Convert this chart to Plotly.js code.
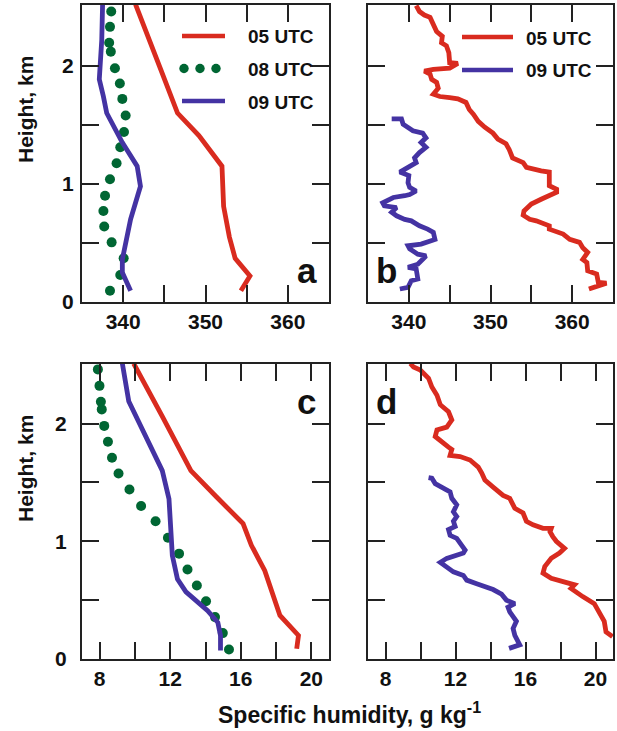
<!DOCTYPE html>
<html>
<head>
<meta charset="utf-8">
<script src="https://cdn.plot.ly/plotly-3.0.1.min.js"></script>
<style>html,body{margin:0;padding:0;background:#fff;}#chart{width:617px;height:731px;}</style>
</head>
<body>
<div id="chart"></div>
<script>
// ---------- DATA ----------
// Panel a: potential temperature (K) vs height (km), smoothed profiles
const a05_theta = [354.3, 355.4, 353.6, 352.9, 352.2, 352.0, 349.2, 346.6, 344.5, 343.1, 341.5];
const a05_z     = [0.095, 0.22, 0.37, 0.55, 0.81, 1.15, 1.41, 1.60, 1.98, 2.22, 2.52];
const a08_theta = [338.4, 339.65, 340.06, 338.6, 337.7, 337.6, 337.8, 338.4, 339.2, 339.65, 340.1, 340.3, 339.9, 339.6, 339.0, 338.5, 338.3, 338.4, 338.55];
const a08_z     = [0.095, 0.228, 0.37, 0.505, 0.64, 0.77, 0.90, 1.04, 1.175, 1.31, 1.44, 1.58, 1.72, 1.85, 1.98, 2.12, 2.195, 2.33, 2.46];
const a09_theta = [340.9, 339.9, 339.9, 340.9, 342.1, 341.7, 339.9, 338.0, 337.6, 337.1, 337.4, 337.5];
const a09_z     = [0.095, 0.25, 0.36, 0.70, 0.98, 1.15, 1.35, 1.60, 1.74, 1.885, 2.22, 2.52];

// Panel b: potential temperature (K) vs height (km), raw soundings
const b05_theta = [362.05, 364.2, 363.2, 363.0, 361.9, 361.8, 361.3, 361.9, 361.3, 360.9, 359.7, 358.9, 357.2, 357.2, 355.6, 354.8, 354.0, 354.1, 355.0, 355.4, 356.2, 358.1, 358.1, 357.2, 357.2, 356.2, 354.4, 354.0, 352.7, 352.3, 351.9, 350.9, 350.3, 349.3, 348.5, 347.9, 347.4, 347.0, 346.0, 345.0, 343.8, 343.0, 343.6, 343.4, 342.8, 342.6, 341.9, 343.0, 345.0, 346.0, 345.0, 344.9, 344.6, 344.0, 344.1, 343.4, 343.0, 342.6, 341.9, 341.3, 340.9];
const b05_z     = [0.11, 0.16, 0.167, 0.237, 0.265, 0.335, 0.36, 0.42, 0.46, 0.505, 0.53, 0.575, 0.617, 0.645, 0.687, 0.70, 0.735, 0.77, 0.83, 0.84, 0.87, 0.93, 0.955, 0.985, 1.10, 1.11, 1.14, 1.18, 1.22, 1.29, 1.34, 1.38, 1.43, 1.48, 1.53, 1.59, 1.63, 1.69, 1.72, 1.73, 1.74, 1.76, 1.81, 1.86, 1.885, 1.93, 1.955, 1.97, 1.98, 2.02, 2.026, 2.11, 2.17, 2.195, 2.25, 2.29, 2.34, 2.41, 2.43, 2.46, 2.51];
const b09_theta = [338.9, 339.9, 340.3, 341.1, 340.9, 339.9, 341.1, 342.1, 341.1, 340.1, 339.9, 341.5, 343.2, 343.0, 342.3, 341.3, 340.3, 339.5, 338.5, 337.9, 338.5, 337.0, 336.8, 338.1, 339.5, 340.1, 340.9, 340.1, 339.9, 340.0, 338.9, 340.1, 340.9, 340.7, 341.3, 342.1, 341.5, 342.1, 341.7, 340.5, 339.9, 339.3, 339.1, 337.9];
const b09_z     = [0.11, 0.124, 0.18, 0.195, 0.28, 0.293, 0.32, 0.39, 0.405, 0.45, 0.476, 0.49, 0.53, 0.59, 0.617, 0.645, 0.687, 0.70, 0.73, 0.76, 0.80, 0.815, 0.84, 0.885, 0.90, 0.91, 0.94, 0.97, 1.01, 1.07, 1.10, 1.15, 1.18, 1.22, 1.265, 1.31, 1.35, 1.39, 1.43, 1.45, 1.48, 1.505, 1.55, 1.55];

// Panel c: specific humidity (g/kg) vs height (km), smoothed profiles
const c05_q = [19.17, 19.27, 18.22, 17.36, 16.6, 16.13, 14.6, 13.17, 11.55, 9.93];
const c05_z = [0.087, 0.20, 0.37, 0.75, 0.966, 1.15, 1.38, 1.60, 2.06, 2.51];
const c08_q = [15.33, 14.98, 14.54, 14.03, 13.51, 12.98, 12.50, 11.87, 11.17, 10.35, 9.69, 9.07, 8.70, 8.47, 8.26, 8.12, 8.07, 7.99, 7.90];
const c08_z = [0.08, 0.22, 0.356, 0.49, 0.625, 0.76, 0.895, 1.03, 1.17, 1.30, 1.44, 1.575, 1.71, 1.845, 1.98, 2.12, 2.185, 2.32, 2.46];
const c09_q = [14.85, 14.85, 14.7, 14.12, 12.89, 12.41, 12.12, 12.03, 11.93, 11.55, 10.6, 9.65, 9.27];
const c09_z = [0.072, 0.20, 0.31, 0.41, 0.57, 0.68, 0.88, 1.16, 1.36, 1.60, 1.90, 2.19, 2.525];

// Panel d: specific humidity (g/kg) vs height (km), raw soundings
const d05_q = [20.97, 20.6, 20.5, 20.31, 20.12, 19.93, 19.27, 18.9, 18.6, 18.8, 18.13, 17.47, 17.0, 17.1, 17.47, 17.94, 18.23, 17.76, 17.56, 17.4, 17.47, 17.0, 16.43, 16.05, 15.86, 15.39, 15.1, 14.72, 14.15, 13.68, 13.5, 13.3, 12.83, 12.26, 11.69, 11.79, 11.6, 11.13, 10.84, 10.94, 11.5, 11.79, 11.6, 11.13, 10.94, 10.65, 10.46, 9.99, 9.6, 9.42];
const d05_z = [0.19, 0.23, 0.32, 0.37, 0.44, 0.47, 0.53, 0.57, 0.60, 0.63, 0.66, 0.685, 0.73, 0.785, 0.855, 0.90, 0.94, 1.0, 1.04, 1.08, 1.11, 1.11, 1.14, 1.17, 1.24, 1.28, 1.365, 1.39, 1.46, 1.52, 1.58, 1.63, 1.69, 1.72, 1.73, 1.78, 1.80, 1.85, 1.89, 1.945, 1.97, 2.03, 2.10, 2.16, 2.24, 2.31, 2.385, 2.455, 2.48, 2.51];
const d09_q = [15.06, 15.67, 15.39, 15.29, 15.48, 15.29, 15.1, 15.0, 15.39, 14.91, 14.63, 14.15, 13.68, 13.21, 12.64, 12.45, 11.88, 11.6, 11.13, 11.5, 11.98, 12.45, 12.55, 12.26, 12.07, 11.69, 11.6, 11.98, 11.88, 12.07, 11.88, 12.07, 11.79, 11.69, 11.31, 10.84, 10.65, 10.46];
const d09_z = [0.09, 0.12, 0.20, 0.26, 0.32, 0.36, 0.40, 0.44, 0.47, 0.50, 0.55, 0.59, 0.61, 0.64, 0.67, 0.71, 0.74, 0.77, 0.82, 0.855, 0.88, 0.90, 0.925, 0.98, 1.025, 1.05, 1.10, 1.125, 1.17, 1.21, 1.25, 1.31, 1.365, 1.42, 1.45, 1.49, 1.535, 1.54];

const seriesNames = ['05 UTC', '08 UTC', '09 UTC'];
const thetaTicks = [340, 350, 360];
const thetaMinor = [345, 355];
const qTicks = [8, 12, 16, 20];
const qMinor = [10, 14, 18];
const zTicks = [0, 1, 2];
const zMinor = [0.5, 1.5];
const panelLabels = ['a', 'b', 'c', 'd'];
const xTitle = 'Specific humidity, g kg<sup>-1</sup>';
const yTitle = 'Height, km';

// ---------- STYLE ----------
const W = 617, H = 731;
const px = x => x / W;
const py = y => 1 - y / H;
const RED = '#d92b1f', BLUE = '#4433a3', GREEN = '#006633';
const FONT = 'Liberation Sans, Arial, Helvetica, sans-serif';
const INK = '#111';

const col1 = [px(82), px(329)], col2 = [px(368), px(613)];
const row1 = [py(302), py(5)], row2 = [py(659), py(363.5)];

function axis(major, minor, extra) {
  return Object.assign({
    showline: true, linewidth: 2, linecolor: '#222', mirror: 'ticks',
    ticks: 'inside', ticklen: 17, tickwidth: 2, tickcolor: '#222',
    showgrid: false, zeroline: false, tickmode: 'array', tickvals: major, fixedrange: true,
    minor: {tickmode: 'array', tickvals: minor, ticks: 'inside', ticklen: 17, tickwidth: 2, tickcolor: '#222', showgrid: false},
    ticklabelstandoff: 0,
    tickfont: {family: FONT, size: 21, color: INK, weight: 'bold'}
  }, extra);
}

const lineW = 4.8;
const traces = [
  {x: a05_theta, y: a05_z, xaxis: 'x', yaxis: 'y', mode: 'lines', line: {color: RED, width: lineW}, name: seriesNames[0]},
  {x: a08_theta, y: a08_z, xaxis: 'x', yaxis: 'y', mode: 'markers', marker: {color: GREEN, size: 10}, name: seriesNames[1]},
  {x: a09_theta, y: a09_z, xaxis: 'x', yaxis: 'y', mode: 'lines', line: {color: BLUE, width: lineW}, name: seriesNames[2]},
  {x: b05_theta, y: b05_z, xaxis: 'x2', yaxis: 'y2', mode: 'lines', line: {color: RED, width: lineW}, name: seriesNames[0]},
  {x: b09_theta, y: b09_z, xaxis: 'x2', yaxis: 'y2', mode: 'lines', line: {color: BLUE, width: lineW}, name: seriesNames[2]},
  {x: c05_q, y: c05_z, xaxis: 'x3', yaxis: 'y3', mode: 'lines', line: {color: RED, width: lineW}, name: seriesNames[0]},
  {x: c08_q, y: c08_z, xaxis: 'x3', yaxis: 'y3', mode: 'markers', marker: {color: GREEN, size: 10}, name: seriesNames[1]},
  {x: c09_q, y: c09_z, xaxis: 'x3', yaxis: 'y3', mode: 'lines', line: {color: BLUE, width: lineW}, name: seriesNames[2]},
  {x: d05_q, y: d05_z, xaxis: 'x4', yaxis: 'y4', mode: 'lines', line: {color: RED, width: lineW}, name: seriesNames[0]},
  {x: d09_q, y: d09_z, xaxis: 'x4', yaxis: 'y4', mode: 'lines', line: {color: BLUE, width: lineW}, name: seriesNames[2]}
];

// Hand-drawn legends (shapes + text)
const shapes = [];
const annotations = [];
function legLine(x0, x1, y, color) {
  shapes.push({type: 'line', xref: 'paper', yref: 'paper', x0: px(x0), x1: px(x1), y0: py(y), y1: py(y), line: {color: color, width: 4.5}});
}
function legDot(cx, cy, r, color) {
  shapes.push({type: 'circle', xref: 'paper', yref: 'paper', x0: px(cx - r), x1: px(cx + r), y0: py(cy + r), y1: py(cy - r), fillcolor: color, line: {width: 0}});
}
function text(t, x, y, size, xanchor, extra) {
  annotations.push(Object.assign({text: t, xref: 'paper', yref: 'paper', x: px(x), y: py(y), xanchor: xanchor, yanchor: 'middle', showarrow: false, font: {family: FONT, size: size, color: INK, weight: 'bold'}}, extra || {}));
}
// Panel a legend
legLine(182, 225, 36, RED); text(seriesNames[0], 246, 37, 19, 'left');
legDot(184, 68.5, 4.7, GREEN); legDot(200, 68.5, 4.7, GREEN); legDot(216, 68.5, 4.7, GREEN); text(seriesNames[1], 246, 69.5, 19, 'left');
legLine(182, 225, 101, BLUE); text(seriesNames[2], 246, 102, 19, 'left');
// Panel b legend
legLine(462, 513, 37, RED); text(seriesNames[0], 524, 38, 19, 'left');
legLine(462, 513, 70, BLUE); text(seriesNames[2], 524, 71, 19, 'left');
// Panel letters
text(panelLabels[0], 306.5, 271, 35, 'center');
text(panelLabels[1], 386, 271, 35, 'center');
text(panelLabels[2], 306.5, 401, 35, 'center');
text(panelLabels[3], 386, 401, 35, 'center');
// Axis titles
text(xTitle, 349.5, 713, 23, 'center');
text(yTitle, 25, 110, 21, 'center', {textangle: -90});
text(yTitle, 25, 469, 21, 'center', {textangle: -90});

const layout = {
  width: W, height: H,
  margin: {l: 0, r: 0, t: 0, b: 0},
  paper_bgcolor: '#fff', plot_bgcolor: 'rgba(0,0,0,0)',
  showlegend: false,
  font: {family: FONT, color: INK},
  xaxis:  axis(thetaTicks, thetaMinor, {domain: col1, anchor: 'y',  range: [335, 365]}),
  yaxis:  axis(zTicks, zMinor, {domain: row1, anchor: 'x',  range: [0, 2.515], ticklabelstandoff: 2}),
  xaxis2: axis(thetaTicks, thetaMinor, {domain: col2, anchor: 'y2', range: [335, 365]}),
  yaxis2: axis(zTicks, zMinor, {domain: row1, anchor: 'x2', range: [0, 2.515], showticklabels: false}),
  xaxis3: axis(qTicks, qMinor, {domain: col1, anchor: 'y3', range: [7, 21]}),
  yaxis3: axis(zTicks, zMinor, {domain: row2, anchor: 'x3', range: [0, 2.51], ticklabelstandoff: 9}),
  xaxis4: axis(qTicks, qMinor, {domain: col2, anchor: 'y4', range: [7, 21]}),
  yaxis4: axis(zTicks, zMinor, {domain: row2, anchor: 'x4', range: [0, 2.51], showticklabels: false}),
  shapes: shapes,
  annotations: annotations
};

Plotly.newPlot('chart', traces, layout, {displayModeBar: false, staticPlot: true});
</script>
</body>
</html>
